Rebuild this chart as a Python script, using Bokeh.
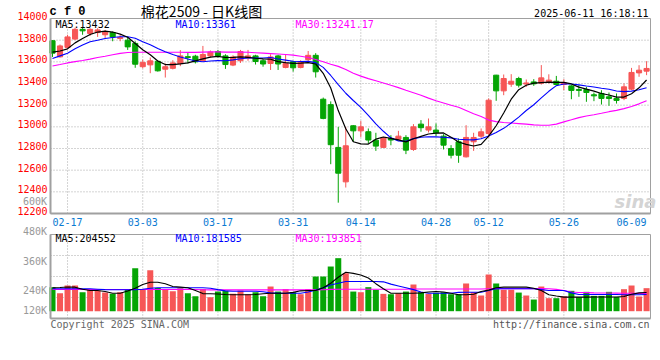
from bokeh.plotting import figure
from bokeh.models import Label, Range1d
from bokeh.embed import file_html
from bokeh.resources import INLINE
from bokeh.core.properties import value

# ---------------- data ----------------
tick_idx = [2, 12, 22, 32, 41, 51, 58, 68, 77]
tick_labels = ["02-17", "03-03", "03-17", "03-31", "04-14", "04-28", "05-12", "05-26", "06-09"]
grid_idx = [2, 12, 22, 32, 41, 51, 58, 68]

price_ticks = [12200, 12400, 12600, 12800, 13000, 13200, 13400, 13600, 13800, 14000]
price_grid = [12400, 12600, 12800, 13000, 13200, 13400, 13600, 13800]
vol_tick_labels = ["600K", "480K", "360K", "240K", "120K"]

open_ = [13795, 13646, 13733, 13810, 13900, 13862, 13870, 13850, 13870, 13815,
         13800, 13770, 13555, 13572, 13605, 13532, 13540, 13585, 13648, 13652,
         13612, 13655, 13695, 13655, 13570, 13610, 13635, 13655, 13610, 13585,
         13655, 13548, 13600, 13548, 13620, 13660, 13255, 13205, 12810, 12492,
         13010, 12963, 12955, 12877, 12810, 12893, 12886, 12902, 12791, 13025,
         12970, 12970, 12914, 12800, 12862, 12723, 12862, 12914, 12939, 13477,
         13332, 13394, 13446, 13395, 13415, 13403, 13415, 13421, 13391, 13378,
         13345, 13345, 13296, 13308, 13277, 13262, 13262, 13348, 13498, 13514]
close = [13680, 13747, 13830, 13900, 13886, 13900, 13895, 13880, 13830, 13825,
         13738, 13578, 13595, 13609, 13517, 13555, 13590, 13655, 13640, 13600,
         13668, 13690, 13655, 13575, 13645, 13695, 13655, 13603, 13580, 13645,
         13580, 13585, 13545, 13600, 13660, 13508, 13078, 12835, 12572, 12825,
         12963, 13000, 12878, 12822, 12902, 12878, 12914, 12785, 13000, 12992,
         13000, 12945, 12831, 12738, 12738, 12902, 12902, 12954, 13246, 13332,
         13446, 13421, 13385, 13405, 13397, 13452, 13431, 13391, 13406, 13336,
         13336, 13317, 13286, 13262, 13262, 13244, 13369, 13502, 13523, 13539]
high = [13800, 13760, 13850, 13915, 13918, 13910, 13910, 13895, 13880, 13850,
        13830, 13790, 13620, 13640, 13610, 13585, 13615, 13708, 13683, 13665,
        13747, 13705, 13710, 13670, 13660, 13710, 13710, 13665, 13625, 13670,
        13665, 13670, 13610, 13615, 13700, 13680, 13270, 13235, 13000, 13000,
        13015, 13055, 12985, 12945, 12905, 12923, 12963, 12923, 13025, 13062,
        13077, 13031, 12932, 12831, 12893, 13015, 12945, 12985, 13262, 13480,
        13483, 13486, 13462, 13437, 13440, 13570, 13485, 13470, 13440, 13385,
        13385, 13369, 13317, 13338, 13317, 13308, 13400, 13544, 13569, 13606]
low = [13645, 13640, 13720, 13800, 13850, 13840, 13830, 13820, 13790, 13790,
       13710, 13545, 13540, 13495, 13510, 13455, 13530, 13560, 13585, 13585,
       13600, 13640, 13640, 13535, 13560, 13590, 13610, 13575, 13555, 13525,
       13525, 13540, 13510, 13540, 13600, 13455, 13070, 12655, 12300, 12440,
       12860, 12905, 12845, 12778, 12808, 12830, 12877, 12748, 12778, 12955,
       12948, 12914, 12791, 12708, 12668, 12717, 12778, 12893, 12902, 13240,
       13292, 13369, 13363, 13369, 13378, 13390, 13400, 13378, 13338, 13255,
       13277, 13231, 13237, 13206, 13194, 13215, 13246, 13338, 13462, 13477]

ma5 = [13690, 13700, 13720, 13775, 13815, 13852, 13875, 13884, 13875, 13856,
       13827, 13770, 13712, 13665, 13608, 13575, 13574, 13582, 13591, 13609,
       13627, 13643, 13650, 13640, 13641, 13645, 13642, 13633, 13628, 13624,
       13602, 13592, 13586, 13588, 13592, 13580, 13494, 13358, 13150, 12982,
       12862, 12842, 12841, 12886, 12906, 12893, 12880, 12861, 12890, 12912,
       12934, 12942, 12944, 12903, 12860, 12838, 12823, 12838, 12914, 13010,
       13128, 13255, 13343, 13384, 13403, 13408, 13412, 13411, 13410, 13396,
       13367, 13348, 13330, 13308, 13294, 13274, 13275, 13306, 13360, 13432]
ma10 = [13630, 13655, 13680, 13720, 13755, 13785, 13800, 13815, 13825, 13832,
        13832, 13817, 13786, 13757, 13724, 13693, 13667, 13645, 13626, 13608,
        13601, 13607, 13611, 13610, 13618, 13628, 13635, 13636, 13636, 13640,
        13626, 13616, 13605, 13603, 13604, 13593, 13549, 13474, 13390, 13310,
        13243, 13180, 13106, 13027, 12959, 12898, 12870, 12866, 12891, 12904,
        12908, 12907, 12904, 12898, 12886, 12881, 12880, 12890, 12915, 12947,
        12986, 13035, 13090, 13151, 13204, 13267, 13328, 13380, 13396, 13396,
        13387, 13377, 13368, 13356, 13347, 13331, 13325, 13330, 13342, 13361]
ma30 = [13562, 13575, 13590, 13602, 13612, 13625, 13640, 13652, 13665, 13678,
        13686, 13688, 13688, 13688, 13688, 13688, 13688, 13688, 13687, 13687,
        13690, 13692, 13692, 13690, 13690, 13690, 13688, 13684, 13680, 13676,
        13672, 13668, 13662, 13652, 13640, 13622, 13600, 13578, 13558, 13530,
        13495, 13468, 13445, 13425, 13405, 13383, 13362, 13338, 13315, 13292,
        13265, 13240, 13220, 13200, 13180, 13150, 13120, 13095, 13062, 13048,
        13040, 13035, 13030, 13025, 13018, 13015, 13014, 13025, 13046, 13065,
        13085, 13100, 13112, 13125, 13140, 13152, 13168, 13188, 13212, 13241.17]

# volume in thousands of lots
vol_k = [262, 196, 280, 280, 207, 233, 222, 203, 189, 207,
         236, 469, 236, 447, 254, 236, 218, 251, 196, 163,
         243, 153, 214, 222, 189, 225, 185, 207, 163, 269,
         214, 240, 207, 185, 240, 378, 378, 487, 578, 414,
         214, 207, 262, 233, 189, 185, 196, 214, 291, 207,
         189, 200, 207, 185, 185, 302, 207, 171, 400, 302,
         233, 233, 203, 171, 127, 269, 142, 142, 163, 222,
         153, 211, 167, 167, 211, 156, 240, 280, 160, 251]
vma5 = [255, 258, 264, 262, 240, 226, 226, 215, 196, 196,
        220, 250, 290, 316, 316, 300, 269, 262, 255, 225,
        192, 190, 188, 182, 179, 179, 180, 182, 190, 196,
        196, 196, 205, 222, 226, 226, 255, 305, 370, 425,
        412, 395, 362, 300, 244, 196, 196, 196, 196, 200,
        210, 215, 210, 195, 180, 179, 185, 215, 230, 255,
        262, 262, 262, 262, 250, 225, 180, 165, 153, 153,
        153, 153, 155, 155, 155, 155, 160, 185, 200, 204.552]
vma10 = [244, 244, 244, 244, 244, 244, 240, 235, 233, 233,
         233, 233, 240, 250, 255, 255, 255, 255, 255, 255,
         255, 250, 235, 222, 218, 218, 218, 218, 212, 200,
         196, 196, 196, 196, 210, 230, 255, 286, 305, 324,
         324, 324, 324, 324, 320, 295, 275, 255, 235, 210,
         196, 196, 196, 196, 205, 207, 207, 207, 225, 244,
         244, 244, 244, 244, 244, 235, 226, 226, 226, 200,
         182, 182, 182, 182, 182, 182, 180, 180, 180, 181.585]
vma30 = [236, 236, 236, 236, 236, 236, 236, 236, 236, 236,
         236, 236, 236, 236, 236, 236, 236, 236, 236, 236,
         234, 232, 232, 232, 232, 232, 232, 232, 232, 232,
         232, 232, 232, 232, 232, 232, 234, 238, 240, 240,
         240, 240, 240, 240, 240, 240, 240, 240, 242, 242,
         242, 242, 242, 242, 242, 242, 242, 242, 244, 246,
         246, 246, 246, 246, 246, 246, 244, 238, 226, 210,
         204, 202, 200, 199, 198, 197, 196, 195, 194, 193.851]

# ---------------- layout constants (pixels) ----------------
W, H = 660, 360
PX0, STEP = 52.0, 7.52            # pixel of first candle, pixels per trading day
PANEL_L, PANEL_R = 50.0, 650.0    # panel left / right edges
PRICE_TOP, PRICE_BOT = 18.0, 213.0
VOL_TOP, VOL_BOT, VOL_BASE = 234.0, 318.0, 310.7
VK_PER_PX = 10.9                  # thousand lots per pixel in the volume panel

MONO = "DejaVu Sans Mono"
RED = "#f65656"
GREEN = "#05a505"
GRID = "#a8a8a8"
BORDER = "#a0a0a0"

PMIN, PMAX = price_ticks[0], price_ticks[-1]
ppp = (PMAX - PMIN) / (PRICE_BOT - PRICE_TOP)
x_range = Range1d(-PX0 / STEP, (W - PX0) / STEP)
y_range = Range1d(PMIN - (H - PRICE_BOT) * ppp, PMAX + PRICE_TOP * ppp)
vol_range = Range1d(-(H - VOL_BASE) * VK_PER_PX, VOL_BASE * VK_PER_PX)

xl = (PANEL_L - PX0) / STEP
xr = (PANEL_R - PX0) / STEP
vtop = (VOL_BASE - VOL_TOP) * VK_PER_PX
vbot = (VOL_BASE - VOL_BOT) * VK_PER_PX
vol_grid = [vbot + (vtop - vbot) * k / 4 for k in (1, 2, 3)]

n = len(close)
xs = list(range(n))
colors = [RED if c >= o else GREEN for o, c in zip(open_, close)]
body_top = [max(o, c) for o, c in zip(open_, close)]
body_bot = [min(o, c) for o, c in zip(open_, close)]

p = figure(width=W, height=H, x_range=x_range, y_range=y_range,
           x_axis_type=None, y_axis_type=None, min_border=0,
           output_backend="svg", toolbar_location=None)
p.extra_y_ranges = {"vol": vol_range}
p.outline_line_color = None
p.background_fill_color = "white"
p.border_fill_color = "white"

# ---- grids ----
p.segment(x0=grid_idx, x1=grid_idx, y0=[PMIN] * len(grid_idx), y1=[PMAX] * len(grid_idx),
          line_color=GRID, line_dash="1 2", line_width=1)
p.segment(x0=[xl] * len(price_grid), x1=[xr] * len(price_grid), y0=price_grid, y1=price_grid,
          line_color=GRID, line_dash="1 2", line_width=1)
p.segment(x0=grid_idx, x1=grid_idx, y0=[vbot] * len(grid_idx), y1=[vtop] * len(grid_idx),
          line_color=GRID, line_dash="1 2", line_width=1, y_range_name="vol")
p.segment(x0=[xl] * 3, x1=[xr] * 3, y0=vol_grid, y1=vol_grid,
          line_color=GRID, line_dash="1 2", line_width=1, y_range_name="vol")

# ---- candles ----
p.segment(x0=xs, y0=low, x1=xs, y1=high, color=colors, line_width=1)
p.vbar(x=xs, width=0.68, top=body_top, bottom=body_bot, fill_color=colors,
       line_color=colors, line_width=1)
p.line(xs, ma30, color="#ff00ff", line_width=1.1)
p.line(xs, ma10, color="#0000ff", line_width=1.1)
p.line(xs, ma5, color="#000000", line_width=1.2)

# ---- volume ----
p.vbar(x=xs, width=0.8, top=vol_k, bottom=0, fill_color=colors, line_color=None, y_range_name="vol")
p.line(xs, vma30, color="#ff00ff", line_width=1.1, y_range_name="vol")
p.line(xs, vma10, color="#0000ff", line_width=1.1, y_range_name="vol")
p.line(xs, vma5, color="#000000", line_width=1.1, y_range_name="vol")

# ---- panel borders ----
p.quad(left=[xl], right=[xr], bottom=[PMIN], top=[PMAX], fill_color=None, line_color=BORDER, line_width=1)
p.segment(x0=[xl, xl], y0=[PMIN, PMIN], x1=[xl, xr], y1=[PMAX, PMIN], line_color=BORDER, line_width=2)
p.quad(left=[xl], right=[xr], bottom=[vbot], top=[vtop], fill_color=None, line_color=BORDER,
       line_width=1, y_range_name="vol")
p.segment(x0=[xl, xl], y0=[vbot, vbot], x1=[xl, xr], y1=[vtop, vbot], line_color=BORDER,
          line_width=2, y_range_name="vol")

# ---- axis tick labels ----
p.text(x=[xl] * len(price_ticks), y=price_ticks, text=[str(v) for v in price_ticks],
       text_color="#ff0000", text_font=value(MONO), text_font_size="10px",
       text_align="right", text_baseline="middle", x_offset=-3, y_offset=-2.5)
p.text(x=tick_idx, y=[PMIN] * len(tick_idx), text=tick_labels,
       text_color="#0a7ad2", text_font=value(MONO), text_font_size="10px",
       text_align="center", text_baseline="middle", y_offset=8.5)


def lab(x, y, text, color, size="10px", align="left", font=MONO, style="normal"):
    """x, y: pixels from the top-left corner of the picture."""
    p.add_layout(Label(x=x, y=H - y, x_units="screen", y_units="screen", text=text,
                       text_color=color, text_font_size=size, text_align=align,
                       text_baseline="middle", text_font=font, text_font_style=style))


# volume axis labels (drawn where the original page places them)
for t, yy in zip(vol_tick_labels, [200.7, 230.7, 261.0, 290.0, 310.0]):
    lab(46.5, yy, t, "#999999", align="right")

# legends
lab(55, 23.7, "MA5:%d" % ma5[-1], "#000000")
lab(175, 23.7, "MA10:%d" % ma10[-1], "#0000ff")
lab(295, 23.7, "MA30:%.2f" % ma30[-1], "#ff00ff")
lab(55, 238.3, "MA5:%d" % round(vma5[-1] * 1000), "#000000")
lab(175, 238.3, "MA10:%d" % round(vma10[-1] * 1000), "#0000ff")
lab(295, 238.3, "MA30:%d" % round(vma30[-1] * 1000), "#ff00ff")

# header / footer
lab(49, 11, "c f 0", "#000000", size="12px", font="Liberation Mono", style="bold")
lab(201, 10, "棉花2509 - 日K线图", "#000000", size="14px", font="Noto Sans CJK SC", align="center")
lab(648, 12.5, "2025-06-11 16:18:11", "#000000", align="right")
lab(635, 201, "sina", "#d4d4d4", size="18px", align="center", font="DejaVu Sans", style="bold italic")
lab(50, 323.5, "Copyright 2025 SINA.COM", "#666666")
lab(649, 323.5, "http://finance.sina.com.cn", "#555555", align="right")

open("out.html", "w").write(file_html(p, INLINE))
